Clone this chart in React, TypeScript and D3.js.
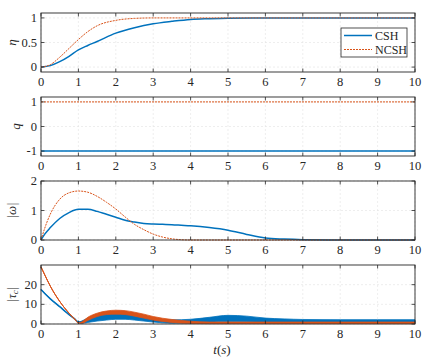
import React from "react";
import * as d3 from "d3";

const W = 436;
const H = 363;
const left = 41;
const right = 415;
const font = "'Times New Roman', Times, 'Liberation Serif', 'DejaVu Serif', serif";
const blue = "#0072BD";
const orange = "#D95319";

// eta
const tEta = [0, 0.25, 0.5, 0.75, 1, 1.25, 1.5, 2, 2.5, 3, 3.5, 4, 4.5, 5, 6, 7, 8, 9, 10];
const etaCSH = [0, 0.03, 0.11, 0.22, 0.35, 0.44, 0.52, 0.69, 0.8, 0.88, 0.93, 0.97, 0.985, 0.995, 1, 1, 1, 1, 1];
const etaNCSH = [0, 0.05, 0.2, 0.38, 0.56, 0.72, 0.84, 0.95, 0.99, 1, 1, 1, 1, 1, 1, 1, 1, 1, 1];

// q
const tQ = [0, 10];
const qCSH = [-1, -1];
const qNCSH = [1, 1];

// |omega|
const tOm = [0, 0.1, 0.25, 0.5, 0.75, 1, 1.25, 1.5, 1.75, 2, 2.25, 2.5, 2.75, 3, 3.25, 3.5, 3.75, 4, 4.5, 5, 5.5, 6, 6.5, 7, 8, 9, 10];
const omCSH = [0, 0.2, 0.42, 0.73, 0.93, 1.04, 1.04, 0.97, 0.87, 0.77, 0.67, 0.61, 0.56, 0.54, 0.53, 0.52, 0.5, 0.48, 0.42, 0.33, 0.19, 0.07, 0.03, 0.01, 0, 0, 0];
const omNCSH = [0, 0.4, 0.88, 1.38, 1.6, 1.66, 1.62, 1.48, 1.28, 1.05, 0.78, 0.53, 0.35, 0.2, 0.1, 0.04, 0.01, 0, 0, 0, 0, 0, 0, 0, 0, 0, 0];

// |tau_c| (noisy, kept as low / high envelope)
const tTau = [0, 0.1, 0.25, 0.5, 0.75, 0.9, 1, 1.1, 1.25, 1.5, 1.75, 2, 2.25, 2.5, 2.75, 3, 3.5, 4, 4.5, 5, 5.5, 6, 6.5, 7, 8, 9, 10];
const tauCSHlo = [17.5, 15.5, 12.8, 8.8, 4.8, 2.6, 1, 0.4, 0.8, 1.5, 2, 2.4, 2.4, 2, 1.5, 1, 0.4, 0.6, 0.9, 1.3, 1.2, 1, 0.9, 0.9, 0.9, 0.9, 0.9];
const tauCSHhi = [17.5, 15.5, 12.8, 8.8, 4.8, 2.6, 1, 1.6, 3, 4.5, 5.3, 5.6, 5.3, 4.5, 3.5, 2.6, 2.1, 2.4, 3.4, 4.4, 4, 3, 2.6, 2.3, 2.2, 2.2, 2.2];
const tauNCSHlo = [29, 25, 19.2, 11.5, 5.5, 2.5, 0.5, 0.4, 1.8, 3.8, 4.8, 5, 4.8, 4, 3, 2, 0.8, 0.3, 0.2, 0.2, 0.2, 0.2, 0.2, 0.2, 0.2, 0.2, 0.2];
const tauNCSHhi = [29, 25, 19.2, 11.5, 5.5, 2.5, 0.5, 1.2, 3.4, 5.5, 6.6, 7, 6.8, 6, 5, 3.8, 2.3, 1.4, 1, 1, 1, 1, 1, 1, 1, 1, 1];

const xTicks = d3.range(0, 11);

type Panel = {
  top: number;
  bottom: number;
  domain: [number, number];
  ticks: number[];
  label: string;
};

const panels: Panel[] = [
  { top: 13, bottom: 72, domain: [-0.1, 1.1], ticks: [0, 0.5, 1], label: "η" },
  { top: 97, bottom: 156, domain: [-1.2, 1.2], ticks: [-1, 0, 1], label: "q" },
  { top: 181, bottom: 240, domain: [0, 2], ticks: [0, 1, 2], label: "|ω|" },
  { top: 265, bottom: 324, domain: [0, 30], ticks: [0, 10, 20], label: "|τc|" },
];

const x = d3.scaleLinear().domain([0, 10]).range([left, right]);
const txt = { fontFamily: font } as React.CSSProperties;

function Axes({ p, y }: { p: Panel; y: d3.ScaleLinear<number, number> }) {
  return (
    <g>
      {xTicks.map((t) => (
        <line key={"gx" + t} x1={x(t)} x2={x(t)} y1={p.top} y2={p.bottom} stroke="#e3e3e3" strokeWidth={0.6} strokeDasharray="2,2" />
      ))}
      {p.ticks.map((t) => (
        <line key={"gy" + t} x1={left} x2={right} y1={y(t)} y2={y(t)} stroke="#e3e3e3" strokeWidth={0.6} strokeDasharray="2,2" />
      ))}
    </g>
  );
}

function Frame({ p, y }: { p: Panel; y: d3.ScaleLinear<number, number> }) {
  const c = "#262626";
  return (
    <g style={txt} fontSize={12.5} fill={c}>
      {xTicks.map((t) => (
        <g key={"tx" + t}>
          <line x1={x(t)} x2={x(t)} y1={p.bottom} y2={p.bottom - 3.5} stroke={c} strokeWidth={0.8} />
          <line x1={x(t)} x2={x(t)} y1={p.top} y2={p.top + 3.5} stroke={c} strokeWidth={0.8} />
          <text x={x(t)} y={p.bottom + 14} textAnchor="middle" style={txt}>{t}</text>
        </g>
      ))}
      {p.ticks.map((t) => (
        <g key={"ty" + t}>
          <line x1={left} x2={left + 3.5} y1={y(t)} y2={y(t)} stroke={c} strokeWidth={0.8} />
          <line x1={right} x2={right - 3.5} y1={y(t)} y2={y(t)} stroke={c} strokeWidth={0.8} />
          <text x={left - 4} y={y(t) + 4} textAnchor="end" style={txt}>{t}</text>
        </g>
      ))}
      <rect x={left} y={p.top} width={right - left} height={p.bottom - p.top} fill="none" stroke={c} strokeWidth={0.9} />
    </g>
  );
}

function linePath(ts: number[], vs: number[], y: d3.ScaleLinear<number, number>) {
  const pts = ts.map((t, i) => [t, vs[i]] as [number, number]);
  return d3
    .line<[number, number]>()
    .x((d) => x(d[0]))
    .y((d) => y(d[1]))
    .curve(d3.curveMonotoneX)(pts) || "";
}

function bandPath(ts: number[], lo: number[], hi: number[], y: d3.ScaleLinear<number, number>) {
  const pts = ts.map((t, i) => i);
  return d3
    .area<number>()
    .x((i) => x(ts[i]))
    .y0((i) => y(lo[i]))
    .y1((i) => y(hi[i]))
    .curve(d3.curveMonotoneX)(pts) || "";
}

export default function App() {
  const ys = panels.map((p) => d3.scaleLinear().domain(p.domain).range([p.bottom, p.top]));
  const [y1, y2, y3, y4] = ys;
  const midC = tauCSHlo.map((v, i) => (v + tauCSHhi[i]) / 2);
  const midN = tauNCSHlo.map((v, i) => (v + tauNCSHhi[i]) / 2);
  const dash = "2,1";
  return (
    <svg width={W} height={H} style={{ position: "absolute", left: 0, top: 0, background: "#fff" }}>
      {panels.map((p, i) => (
        <Axes key={"a" + i} p={p} y={ys[i]} />
      ))}

      {/* eta */}
      <path d={linePath(tEta, etaCSH, y1)} fill="none" stroke={blue} strokeWidth={1.5} />
      <path d={linePath(tEta, etaNCSH, y1)} fill="none" stroke={orange} strokeWidth={1} strokeDasharray={dash} />

      {/* q */}
      <path d={linePath(tQ, qCSH, y2)} fill="none" stroke={blue} strokeWidth={1.5} />
      <path d={linePath(tQ, qNCSH, y2)} fill="none" stroke={orange} strokeWidth={1} strokeDasharray={dash} />

      {/* omega */}
      <path d={linePath(tOm, omCSH, y3)} fill="none" stroke={blue} strokeWidth={1.5} />
      <path d={linePath(tOm, omNCSH, y3)} fill="none" stroke={orange} strokeWidth={1} strokeDasharray={dash} />

      {/* tau */}
      <path d={bandPath(tTau, tauCSHlo, tauCSHhi, y4)} fill={blue} stroke={blue} strokeWidth={0.8} />
      <path d={linePath(tTau, midC, y4)} fill="none" stroke={blue} strokeWidth={1.5} />
      <path d={bandPath(tTau, tauNCSHlo, tauNCSHhi, y4)} fill={orange} stroke={orange} strokeWidth={0.8} />
      <path d={linePath(tTau, midN, y4)} fill="none" stroke={orange} strokeWidth={1} />

      {panels.map((p, i) => (
        <Frame key={"f" + i} p={p} y={ys[i]} />
      ))}

      {/* y labels */}
      {panels.map((p, i) => (
        <text
          key={"yl" + i}
          transform={`translate(${i === 1 ? 20 : 16},${(p.top + p.bottom) / 2}) rotate(-90)`}
          textAnchor="middle"
          style={txt}
          fontStyle="italic"
          fontSize={13}
          fill="#262626"
        >
          {i === 3 ? (
            <>
              |τ<tspan fontSize={9} dy={2}>c</tspan>
              <tspan dy={-2}>|</tspan>
            </>
          ) : (
            p.label
          )}
        </text>
      ))}

      {/* x label */}
      <text x={222} y={354} textAnchor="middle" style={txt} fontSize={13} fill="#262626">
        <tspan fontStyle="italic">t</tspan>(<tspan fontStyle="italic">s</tspan>)
      </text>

      {/* legend */}
      <g style={txt} fontSize={12} fill="#262626">
        <rect x={341} y={28} width={66} height={29} fill="#fff" stroke="#262626" strokeWidth={0.8} />
        <line x1={344} x2={372} y1={35.5} y2={35.5} stroke={blue} strokeWidth={1.5} />
        <text x={375} y={39.5} style={txt}>CSH</text>
        <line x1={344} x2={372} y1={49.5} y2={49.5} stroke={orange} strokeWidth={1} strokeDasharray={dash} />
        <text x={375} y={53.5} style={txt}>NCSH</text>
      </g>
    </svg>
  );
}
